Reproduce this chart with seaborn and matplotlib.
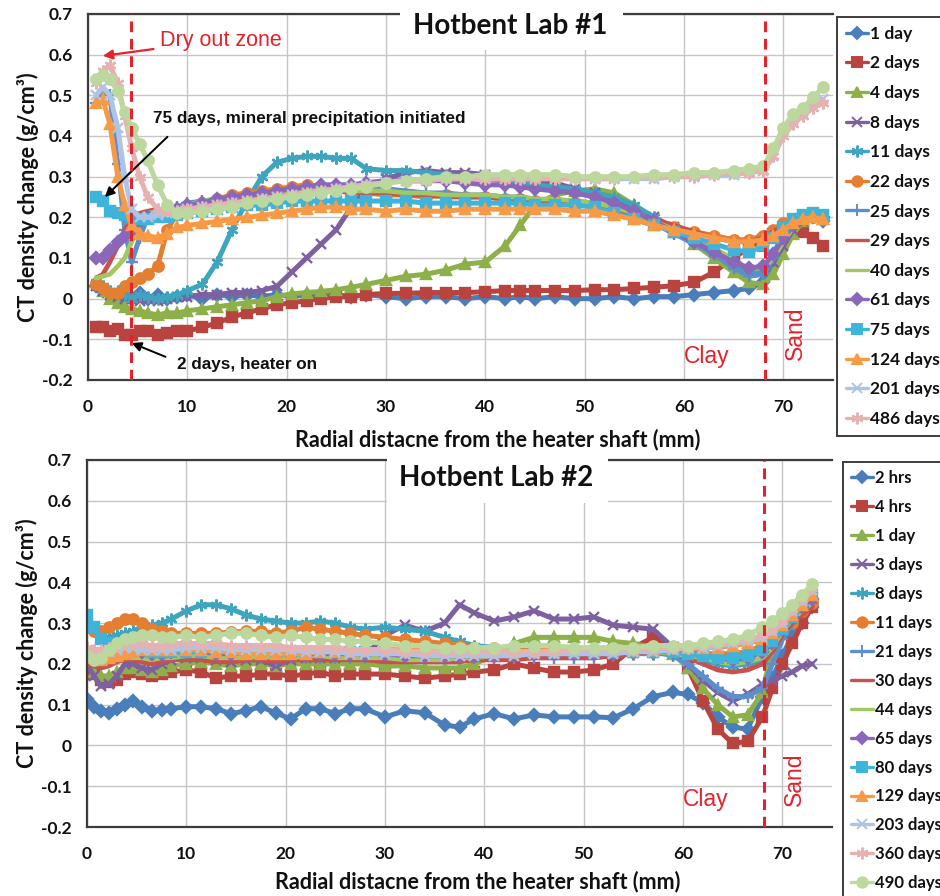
import matplotlib
matplotlib.use("Agg")
import matplotlib.pyplot as plt
from matplotlib.lines import Line2D
from matplotlib.patches import Rectangle
import seaborn as sns

sns.set_style("white")
plt.rcParams["font.family"] = ["Lato", "DejaVu Sans"]

W, H = 940, 896

# ---------------- axis ticks ----------------
x_ticks = [0, 10, 20, 30, 40, 50, 60, 70]
y_ticks = [-0.2, -0.1, 0.0, 0.1, 0.2, 0.3, 0.4, 0.5, 0.6, 0.7]
y_tick_labels = ["-0.2", "-0.1", "0", "0.1", "0.2", "0.3", "0.4", "0.5", "0.6", "0.7"]

# ---------------- Hotbent Lab #1 ----------------
x_lab1 = [0.8, 1.5, 2.2, 3.0, 3.7, 4.4, 5.2, 6.0, 7.0, 8.0,
          9.0, 10.0, 11.5, 13.0, 14.5, 16.0, 17.5, 19.0, 20.5, 22.0,
          23.5, 25.0, 26.5, 28.0, 30.0, 32.0, 34.0, 36.0, 38.0, 40.0,
          42.0, 43.5, 45.0, 47.0, 49.0, 51.0, 53.0, 55.0, 57.0, 59.0,
          61.0, 63.0, 65.0, 66.5, 68.0, 69.0, 70.0, 71.0, 72.0, 73.0,
          74.0]

lab1_labels = ["1 day", "2 days", "4 days", "8 days", "11 days", "22 days", "25 days",
               "29 days", "40 days", "61 days", "75 days", "124 days", "201 days", "486 days"]

l1_1day = [0.030, 0.020, 0.010, 0.000, 0.010, 0.000, 0.015, 0.000, 0.010, 0.000,
           0.005, 0.010, 0.000, 0.010, 0.005, 0.010, 0.005, 0.010, 0.005, 0.010,
           0.005, 0.010, 0.005, 0.010, 0.005, 0.000, 0.005, 0.005, 0.000, 0.005,
           0.000, 0.005, 0.000, 0.005, 0.000, 0.000, 0.005, 0.000, 0.005, 0.005,
           0.010, 0.015, 0.020, 0.025, 0.040, 0.080, 0.140, 0.180, 0.200, 0.200,
           0.190]
l1_2days = [-0.070, -0.070, -0.080, -0.075, -0.090, -0.090, -0.080, -0.080, -0.090, -0.085,
            -0.080, -0.080, -0.070, -0.060, -0.045, -0.035, -0.025, -0.015, -0.010, -0.005,
            0.000, 0.005, 0.005, 0.010, 0.013, 0.013, 0.015, 0.015, 0.015, 0.017,
            0.020, 0.020, 0.020, 0.020, 0.020, 0.022, 0.022, 0.025, 0.028, 0.032,
            0.040, 0.065, 0.100, 0.125, 0.145, 0.160, 0.170, 0.175, 0.165, 0.150,
            0.130]
l1_4days = [0.040, 0.020, 0.000, -0.010, -0.020, -0.025, -0.030, -0.035, -0.040, -0.035,
            -0.035, -0.030, -0.025, -0.020, -0.015, -0.010, -0.005, 0.005, 0.012, 0.015,
            0.018, 0.022, 0.028, 0.035, 0.045, 0.055, 0.060, 0.070, 0.085, 0.090,
            0.130, 0.180, 0.230, 0.255, 0.265, 0.270, 0.260, 0.230, 0.195, 0.165,
            0.135, 0.100, 0.065, 0.040, 0.035, 0.060, 0.110, 0.160, 0.190, 0.200,
            0.195]
l1_8days = [0.030, 0.020, 0.010, 0.005, 0.000, 0.000, -0.005, 0.000, -0.005, 0.000,
            0.005, 0.005, 0.010, 0.010, 0.015, 0.015, 0.020, 0.030, 0.065, 0.100,
            0.135, 0.170, 0.225, 0.270, 0.295, 0.310, 0.315, 0.310, 0.310, 0.305,
            0.300, 0.300, 0.290, 0.285, 0.270, 0.260, 0.240, 0.220, 0.200, 0.175,
            0.150, 0.120, 0.090, 0.070, 0.070, 0.090, 0.130, 0.170, 0.190, 0.200,
            0.200]
l1_11days = [0.040, 0.030, 0.020, 0.020, 0.010, 0.000, 0.010, 0.005, 0.000, 0.005,
             0.010, 0.020, 0.035, 0.090, 0.170, 0.240, 0.300, 0.335, 0.345, 0.350,
             0.350, 0.345, 0.345, 0.320, 0.315, 0.315, 0.310, 0.305, 0.300, 0.295,
             0.290, 0.285, 0.280, 0.275, 0.270, 0.260, 0.250, 0.230, 0.200, 0.170,
             0.140, 0.110, 0.080, 0.065, 0.070, 0.110, 0.160, 0.190, 0.205, 0.210,
             0.205]
l1_22days = [0.035, 0.025, 0.015, 0.015, 0.030, 0.040, 0.050, 0.060, 0.080, 0.170,
             0.210, 0.220, 0.235, 0.245, 0.255, 0.260, 0.265, 0.270, 0.275, 0.280,
             0.275, 0.270, 0.265, 0.260, 0.255, 0.255, 0.250, 0.255, 0.250, 0.250,
             0.245, 0.245, 0.240, 0.240, 0.235, 0.230, 0.220, 0.205, 0.190, 0.175,
             0.165, 0.155, 0.145, 0.145, 0.155, 0.170, 0.185, 0.195, 0.200, 0.200,
             0.195]
l1_25days = [0.480, 0.510, 0.500, 0.330, 0.170, 0.090, 0.150, 0.200, 0.215, 0.220,
             0.225, 0.235, 0.240, 0.245, 0.250, 0.255, 0.260, 0.260, 0.265, 0.265,
             0.270, 0.270, 0.270, 0.270, 0.270, 0.265, 0.260, 0.260, 0.255, 0.255,
             0.250, 0.250, 0.245, 0.240, 0.240, 0.235, 0.220, 0.205, 0.185, 0.160,
             0.135, 0.110, 0.075, 0.055, 0.060, 0.100, 0.150, 0.185, 0.205, 0.210,
             0.205]
l1_29days = [0.050, 0.060, 0.090, 0.130, 0.170, 0.190, 0.210, 0.215, 0.220, 0.220,
             0.225, 0.230, 0.235, 0.240, 0.245, 0.250, 0.255, 0.260, 0.260, 0.265,
             0.265, 0.265, 0.260, 0.260, 0.260, 0.255, 0.255, 0.250, 0.250, 0.250,
             0.245, 0.245, 0.240, 0.240, 0.235, 0.230, 0.220, 0.210, 0.195, 0.180,
             0.165, 0.150, 0.140, 0.140, 0.150, 0.165, 0.180, 0.190, 0.195, 0.195,
             0.190]
l1_40days = [0.050, 0.055, 0.060, 0.080, 0.100, 0.140, 0.190, 0.210, 0.215, 0.220,
             0.225, 0.230, 0.240, 0.245, 0.250, 0.255, 0.260, 0.265, 0.265, 0.270,
             0.270, 0.270, 0.265, 0.265, 0.265, 0.260, 0.260, 0.255, 0.255, 0.255,
             0.250, 0.250, 0.245, 0.245, 0.240, 0.235, 0.225, 0.210, 0.190, 0.170,
             0.150, 0.125, 0.095, 0.075, 0.075, 0.100, 0.140, 0.175, 0.195, 0.200,
             0.195]
l1_61days = [0.100, 0.100, 0.120, 0.140, 0.155, 0.170, 0.190, 0.200, 0.210, 0.215,
             0.220, 0.230, 0.235, 0.245, 0.250, 0.255, 0.260, 0.265, 0.270, 0.275,
             0.280, 0.280, 0.280, 0.285, 0.290, 0.290, 0.290, 0.290, 0.285, 0.280,
             0.280, 0.275, 0.270, 0.265, 0.260, 0.250, 0.235, 0.215, 0.190, 0.165,
             0.140, 0.115, 0.090, 0.075, 0.080, 0.110, 0.150, 0.180, 0.200, 0.205,
             0.200]
l1_75days = [0.250, 0.240, 0.215, 0.210, 0.205, 0.200, 0.195, 0.195, 0.200, 0.200,
             0.205, 0.210, 0.215, 0.220, 0.225, 0.230, 0.230, 0.235, 0.240, 0.240,
             0.240, 0.240, 0.240, 0.240, 0.240, 0.240, 0.235, 0.235, 0.235, 0.235,
             0.235, 0.235, 0.230, 0.230, 0.230, 0.225, 0.210, 0.195, 0.180, 0.165,
             0.150, 0.135, 0.120, 0.115, 0.130, 0.150, 0.175, 0.195, 0.205, 0.210,
             0.205]
l1_124days = [0.480, 0.490, 0.430, 0.300, 0.230, 0.180, 0.160, 0.155, 0.150, 0.160,
              0.175, 0.180, 0.185, 0.190, 0.195, 0.200, 0.205, 0.210, 0.215, 0.220,
              0.225, 0.225, 0.220, 0.220, 0.215, 0.220, 0.215, 0.215, 0.220, 0.220,
              0.220, 0.220, 0.220, 0.220, 0.215, 0.215, 0.205, 0.195, 0.180, 0.170,
              0.160, 0.150, 0.140, 0.140, 0.145, 0.155, 0.170, 0.185, 0.195, 0.200,
              0.195]
l1_201days = [0.500, 0.520, 0.500, 0.420, 0.300, 0.220, 0.200, 0.200, 0.205, 0.210,
              0.215, 0.220, 0.225, 0.230, 0.235, 0.240, 0.245, 0.250, 0.255, 0.260,
              0.265, 0.270, 0.275, 0.280, 0.285, 0.290, 0.290, 0.295, 0.295, 0.295,
              0.295, 0.295, 0.295, 0.295, 0.295, 0.295, 0.295, 0.295, 0.295, 0.300,
              0.300, 0.305, 0.305, 0.310, 0.315, 0.350, 0.410, 0.440, 0.460, 0.480,
              0.490]
l1_486days = [0.530, 0.560, 0.575, 0.530, 0.450, 0.370, 0.300, 0.250, 0.220, 0.215,
              0.215, 0.220, 0.225, 0.230, 0.235, 0.240, 0.245, 0.250, 0.255, 0.260,
              0.265, 0.270, 0.275, 0.280, 0.285, 0.290, 0.290, 0.295, 0.295, 0.295,
              0.295, 0.295, 0.295, 0.295, 0.295, 0.295, 0.295, 0.300, 0.300, 0.300,
              0.300, 0.305, 0.310, 0.310, 0.315, 0.350, 0.400, 0.430, 0.450, 0.470,
              0.480]
# scan plotted without a legend entry
l1_extra = [0.540, 0.550, 0.540, 0.510, 0.460, 0.420, 0.380, 0.340, 0.280, 0.230,
            0.210, 0.210, 0.215, 0.220, 0.225, 0.235, 0.240, 0.245, 0.250, 0.255,
            0.260, 0.265, 0.270, 0.275, 0.285, 0.290, 0.295, 0.300, 0.300, 0.305,
            0.305, 0.305, 0.305, 0.305, 0.300, 0.300, 0.300, 0.300, 0.305, 0.305,
            0.310, 0.310, 0.315, 0.320, 0.325, 0.370, 0.420, 0.455, 0.470, 0.495,
            0.520]

# ---------------- Hotbent Lab #2 ----------------
x_lab2 = [0.0, 0.7, 1.4, 2.2, 3.0, 3.8, 4.6, 5.5, 6.5, 7.5,
          8.5, 10.0, 11.5, 13.0, 14.5, 16.0, 17.5, 19.0, 20.5, 22.0,
          23.5, 25.0, 26.5, 28.0, 30.0, 32.0, 34.0, 36.0, 37.5, 39.0,
          41.0, 43.0, 45.0, 47.0, 49.0, 51.0, 53.0, 55.0, 57.0, 59.0,
          60.5, 62.0, 63.5, 65.0, 66.5, 68.0, 69.0, 70.0, 71.0, 72.0,
          73.0]

lab2_labels = ["2 hrs", "4 hrs", "1 day", "3 days", "8 days", "11 days", "21 days", "30 days",
               "44 days", "65 days", "80 days", "129 days", "203 days", "360 days", "490 days"]

l2_2hrs = [0.115, 0.095, 0.085, 0.080, 0.090, 0.100, 0.108, 0.095, 0.085, 0.088,
           0.090, 0.095, 0.095, 0.090, 0.078, 0.085, 0.095, 0.080, 0.065, 0.090,
           0.090, 0.078, 0.090, 0.090, 0.070, 0.085, 0.080, 0.050, 0.045, 0.065,
           0.078, 0.065, 0.075, 0.070, 0.070, 0.070, 0.068, 0.090, 0.120, 0.130,
           0.125, 0.105, 0.070, 0.045, 0.040, 0.120, 0.165, 0.220, 0.270, 0.300,
           0.340]
l2_4hrs = [0.185, 0.175, 0.160, 0.155, 0.160, 0.175, 0.180, 0.175, 0.170, 0.175,
           0.180, 0.185, 0.180, 0.165, 0.170, 0.170, 0.175, 0.175, 0.170, 0.175,
           0.180, 0.170, 0.175, 0.175, 0.175, 0.170, 0.165, 0.170, 0.175, 0.180,
           0.185, 0.200, 0.190, 0.180, 0.180, 0.185, 0.200, 0.240, 0.265, 0.240,
           0.190, 0.110, 0.040, 0.005, 0.010, 0.070, 0.140, 0.200, 0.250, 0.300,
           0.340]
l2_1day = [0.200, 0.180, 0.170, 0.170, 0.180, 0.190, 0.190, 0.185, 0.180, 0.185,
           0.195, 0.200, 0.205, 0.200, 0.195, 0.200, 0.200, 0.195, 0.200, 0.200,
           0.200, 0.200, 0.200, 0.200, 0.195, 0.195, 0.190, 0.190, 0.190, 0.200,
           0.220, 0.250, 0.265, 0.265, 0.265, 0.265, 0.255, 0.250, 0.240, 0.225,
           0.190, 0.140, 0.100, 0.070, 0.075, 0.130, 0.240, 0.290, 0.320, 0.340,
           0.370]
l2_3days = [0.200, 0.170, 0.145, 0.150, 0.170, 0.200, 0.200, 0.190, 0.185, 0.200,
            0.210, 0.215, 0.215, 0.210, 0.205, 0.210, 0.210, 0.195, 0.210, 0.215,
            0.215, 0.215, 0.220, 0.220, 0.270, 0.295, 0.280, 0.300, 0.345, 0.325,
            0.305, 0.315, 0.330, 0.310, 0.310, 0.315, 0.295, 0.290, 0.285, 0.240,
            0.200, 0.160, 0.130, 0.110, 0.125, 0.150, 0.160, 0.170, 0.180, 0.195,
            0.200]
l2_8days = [0.300, 0.280, 0.265, 0.265, 0.270, 0.275, 0.280, 0.290, 0.295, 0.300,
            0.310, 0.330, 0.345, 0.345, 0.335, 0.320, 0.310, 0.305, 0.300, 0.300,
            0.305, 0.300, 0.290, 0.285, 0.290, 0.285, 0.280, 0.265, 0.255, 0.245,
            0.240, 0.235, 0.235, 0.230, 0.230, 0.230, 0.225, 0.225, 0.225, 0.225,
            0.220, 0.210, 0.200, 0.195, 0.200, 0.210, 0.240, 0.280, 0.310, 0.340,
            0.370]
l2_11days = [0.290, 0.280, 0.280, 0.290, 0.300, 0.310, 0.310, 0.300, 0.285, 0.280,
             0.275, 0.275, 0.275, 0.275, 0.278, 0.280, 0.280, 0.275, 0.280, 0.290,
             0.285, 0.280, 0.275, 0.270, 0.265, 0.260, 0.255, 0.250, 0.245, 0.240,
             0.240, 0.235, 0.235, 0.230, 0.230, 0.230, 0.230, 0.230, 0.230, 0.230,
             0.230, 0.225, 0.225, 0.225, 0.230, 0.245, 0.260, 0.280, 0.300, 0.330,
             0.350]
l2_21days = [0.240, 0.230, 0.215, 0.210, 0.220, 0.225, 0.225, 0.220, 0.215, 0.215,
             0.220, 0.220, 0.220, 0.215, 0.215, 0.215, 0.215, 0.210, 0.215, 0.215,
             0.215, 0.215, 0.215, 0.215, 0.215, 0.215, 0.215, 0.215, 0.215, 0.215,
             0.215, 0.215, 0.215, 0.215, 0.215, 0.215, 0.220, 0.225, 0.230, 0.220,
             0.200, 0.170, 0.140, 0.120, 0.120, 0.140, 0.200, 0.260, 0.300, 0.330,
             0.350]
l2_30days = [0.200, 0.195, 0.190, 0.195, 0.205, 0.210, 0.210, 0.205, 0.200, 0.205,
             0.210, 0.210, 0.210, 0.205, 0.205, 0.210, 0.210, 0.205, 0.210, 0.210,
             0.210, 0.210, 0.210, 0.210, 0.205, 0.205, 0.205, 0.205, 0.205, 0.210,
             0.210, 0.210, 0.215, 0.215, 0.215, 0.215, 0.220, 0.225, 0.230, 0.225,
             0.215, 0.200, 0.185, 0.180, 0.185, 0.200, 0.230, 0.270, 0.300, 0.320,
             0.340]
l2_44days = [0.210, 0.205, 0.200, 0.205, 0.210, 0.215, 0.215, 0.215, 0.210, 0.215,
             0.215, 0.220, 0.220, 0.215, 0.215, 0.215, 0.220, 0.215, 0.215, 0.220,
             0.220, 0.215, 0.215, 0.215, 0.215, 0.210, 0.210, 0.210, 0.215, 0.215,
             0.220, 0.225, 0.230, 0.230, 0.230, 0.230, 0.230, 0.230, 0.230, 0.225,
             0.220, 0.215, 0.205, 0.200, 0.205, 0.215, 0.240, 0.280, 0.310, 0.330,
             0.350]
l2_65days = [0.220, 0.215, 0.220, 0.235, 0.240, 0.240, 0.235, 0.230, 0.225, 0.225,
             0.230, 0.230, 0.230, 0.225, 0.225, 0.230, 0.230, 0.225, 0.225, 0.225,
             0.225, 0.225, 0.225, 0.225, 0.225, 0.220, 0.220, 0.220, 0.220, 0.220,
             0.220, 0.225, 0.225, 0.225, 0.225, 0.225, 0.225, 0.230, 0.230, 0.230,
             0.225, 0.220, 0.215, 0.210, 0.215, 0.230, 0.250, 0.285, 0.315, 0.340,
             0.360]
l2_80days = [0.320, 0.290, 0.260, 0.250, 0.250, 0.245, 0.240, 0.235, 0.230, 0.230,
             0.230, 0.230, 0.230, 0.235, 0.235, 0.235, 0.235, 0.230, 0.230, 0.230,
             0.230, 0.230, 0.230, 0.230, 0.230, 0.230, 0.230, 0.230, 0.230, 0.230,
             0.230, 0.230, 0.230, 0.230, 0.230, 0.230, 0.230, 0.230, 0.230, 0.230,
             0.225, 0.220, 0.215, 0.215, 0.220, 0.235, 0.255, 0.285, 0.315, 0.345,
             0.370]
l2_129days = [0.220, 0.215, 0.210, 0.215, 0.220, 0.225, 0.230, 0.235, 0.235, 0.235,
              0.235, 0.235, 0.235, 0.230, 0.230, 0.225, 0.225, 0.225, 0.225, 0.225,
              0.230, 0.230, 0.230, 0.235, 0.235, 0.235, 0.235, 0.230, 0.230, 0.230,
              0.230, 0.230, 0.230, 0.235, 0.235, 0.235, 0.235, 0.235, 0.235, 0.240,
              0.240, 0.240, 0.240, 0.245, 0.250, 0.260, 0.275, 0.295, 0.320, 0.345,
              0.370]
l2_203days = [0.230, 0.225, 0.225, 0.230, 0.235, 0.240, 0.240, 0.235, 0.235, 0.235,
              0.235, 0.240, 0.240, 0.240, 0.235, 0.235, 0.235, 0.235, 0.235, 0.230,
              0.230, 0.230, 0.225, 0.225, 0.225, 0.225, 0.220, 0.220, 0.220, 0.220,
              0.220, 0.220, 0.225, 0.225, 0.225, 0.225, 0.225, 0.230, 0.230, 0.235,
              0.240, 0.240, 0.245, 0.250, 0.255, 0.265, 0.280, 0.300, 0.330, 0.355,
              0.380]
l2_360days = [0.240, 0.235, 0.235, 0.240, 0.245, 0.250, 0.250, 0.250, 0.245, 0.245,
              0.250, 0.250, 0.250, 0.250, 0.245, 0.245, 0.245, 0.245, 0.240, 0.240,
              0.240, 0.240, 0.235, 0.235, 0.235, 0.230, 0.230, 0.230, 0.230, 0.230,
              0.230, 0.230, 0.230, 0.230, 0.235, 0.235, 0.235, 0.235, 0.240, 0.240,
              0.240, 0.245, 0.250, 0.255, 0.260, 0.270, 0.285, 0.305, 0.335, 0.360,
              0.385]
l2_490days = [0.220, 0.210, 0.215, 0.235, 0.250, 0.260, 0.265, 0.270, 0.270, 0.265,
              0.265, 0.270, 0.265, 0.270, 0.275, 0.275, 0.270, 0.265, 0.270, 0.265,
              0.260, 0.260, 0.255, 0.255, 0.250, 0.245, 0.245, 0.240, 0.240, 0.240,
              0.240, 0.245, 0.245, 0.245, 0.240, 0.240, 0.240, 0.240, 0.245, 0.245,
              0.245, 0.250, 0.255, 0.260, 0.270, 0.290, 0.305, 0.325, 0.345, 0.370,
              0.395]

# ---------------- series styles (Excel-like palette) ----------------
ASTER = (6, 2, 0)
BLUE, RED, GREEN, PURPLE, TEAL = "#4A7EBB", "#B8433F", "#8DB04A", "#7D60A0", "#3FA4BE"
ORANGE_DK, BLUE2, RED2, GREEN2 = "#E47E30", "#5E8FCB", "#C9504C", "#A3C862"
PURPLE2, CYAN, ORANGE, LBLUE, PINK, LGREEN = "#8A67B8", "#3FB4DA", "#F89A45", "#AFC4E4", "#E6B2B1", "#BCD89E"

styles = [(BLUE, "D", 6.5), (RED, "s", 6.5), (GREEN, "^", 7.5), (PURPLE, "x", 7.5),
          (TEAL, ASTER, 8.5), (ORANGE_DK, "o", 7.5), (BLUE2, "+", 8.5), (RED2, "", 0),
          (GREEN2, "", 0), (PURPLE2, "D", 6.5), (CYAN, "s", 6.5), (ORANGE, "^", 7.5),
          (LBLUE, "x", 7.5), (PINK, ASTER, 8.5), (LGREEN, "o", 7.5)]

lab1_series = [l1_1day, l1_2days, l1_4days, l1_8days, l1_11days, l1_22days, l1_25days,
               l1_29days, l1_40days, l1_61days, l1_75days, l1_124days, l1_201days,
               l1_486days, l1_extra]
lab2_series = [l2_2hrs, l2_4hrs, l2_1day, l2_3days, l2_8days, l2_11days, l2_21days,
               l2_30days, l2_44days, l2_65days, l2_80days, l2_129days, l2_203days,
               l2_360days, l2_490days]

fig = plt.figure(figsize=(W / 100, H / 100), dpi=100)
fig.patch.set_facecolor("white")
ax1 = fig.add_axes([88 / W, 1 - 380 / H, 745 / W, 366 / H])
ax2 = fig.add_axes([87 / W, 1 - 827 / H, 745 / W, 367 / H])
for ax in (ax1, ax2):
    ax.patch.set_alpha(0)

BOLD_TICK = dict(family="Lato", weight="bold", size=12.5)
LABEL_FONT = dict(family="Lato", weight="bold", size=15.5)
RED_TXT = "#E3222B"


def draw_panel(ax, xs, series_list):
    for vals, (color, marker, ms) in zip(series_list, styles):
        lw = 3.6 if marker else 3.4
        sns.lineplot(x=xs, y=vals, ax=ax, color=color, linewidth=lw,
                     marker=marker if marker else None, markersize=ms,
                     markeredgecolor=color, markerfacecolor=color,
                     markeredgewidth=1.7, sort=False, estimator=None, legend=False)


def style_axes(ax, xlabel_x, xlabel_y):
    ax.set_xlim(0, 75)
    ax.set_ylim(-0.2, 0.7)
    ax.set_xticks(x_ticks)
    ax.set_yticks(y_ticks)
    ax.set_yticklabels(y_tick_labels)
    ax.grid(True, color="#c6c6c6", linewidth=1.0)
    ax.set_axisbelow(True)
    for side in ("left", "bottom", "top"):
        ax.spines[side].set_color("#3c3c3c")
        ax.spines[side].set_linewidth(1.6)
    ax.spines["right"].set_visible(False)
    ax.tick_params(axis="both", length=0)
    ax.tick_params(axis="x", pad=14)
    ax.tick_params(axis="y", pad=11)
    for lab in ax.get_xticklabels() + ax.get_yticklabels():
        lab.set_fontproperties(BOLD_TICK)
        lab.set_color("#111111")
    ax.set_xlabel("Radial distacne from the heater shaft (mm)", fontdict=LABEL_FONT, color="#111111")
    ax.set_ylabel("CT density change (g/cm³)", fontdict=LABEL_FONT, color="#111111")
    ax.xaxis.label.set_va("center")
    ax.xaxis.set_label_coords(xlabel_x, xlabel_y)
    ax.yaxis.set_label_coords(-0.066, 0.5)


def boundary_marks(ax, x_dry=None):
    ax.axvline(68.2, color=RED_TXT, lw=2.2, ls=(0, (3.5, 2.2)), zorder=5)
    if x_dry is not None:
        ax.axvline(x_dry, color=RED_TXT, lw=2.2, ls=(0, (3.5, 2.2)), zorder=5)


draw_panel(ax1, x_lab1, lab1_series)
draw_panel(ax2, x_lab2, lab2_series)
style_axes(ax1, (498 - 88) / 745, (380 - 440) / 366)
style_axes(ax2, (478 - 87) / 745, (827 - 882) / 367)
boundary_marks(ax1, 4.3)
boundary_marks(ax2)

# annotations, panel 1
ax1.annotate("Dry out zone", xy=(1.5, 0.597), xytext=(7.2, 0.636), color=RED_TXT,
             fontsize=15.5, family="Liberation Sans", va="center", ha="left",
             arrowprops=dict(arrowstyle="-|>", color=RED_TXT, lw=1.6, mutation_scale=14,
                             shrinkA=2, shrinkB=0))
ax1.text(6.5, 0.444, "75 days, mineral precipitation initiated", color="#111111",
         fontsize=12.3, fontweight="bold", family="Liberation Sans", va="center", ha="left")
ax1.annotate("", xy=(1.7, 0.25), xytext=(8.0, 0.398),
             arrowprops=dict(arrowstyle="-|>", color="black", lw=1.4, mutation_scale=14,
                             shrinkA=0, shrinkB=0))
ax1.text(9.0, -0.163, "2 days, heater on", color="#111111", fontsize=12.3,
         fontweight="bold", family="Liberation Sans", va="center", ha="left")
ax1.annotate("", xy=(4.4, -0.109), xytext=(7.8, -0.143),
             arrowprops=dict(arrowstyle="-|>", color="black", lw=1.4, mutation_scale=14,
                             shrinkA=0, shrinkB=0))
for ax, cy, sy in ((ax1, -0.143, -0.084), (ax2, -0.133, -0.082)):
    ax.text(62.3, cy, "Clay", color=RED_TXT, fontsize=16.5, family="Liberation Sans",
            ha="center", va="center")
    ax.text(71.2, sy, "Sand", color=RED_TXT, fontsize=16.5, family="Liberation Sans",
            ha="center", va="center", rotation=90)

# title plates sitting on the top frame line
fig.patches.append(Rectangle((400 / W, 1 - 50 / H), 223 / W, 50 / H, transform=fig.transFigure,
                             facecolor="white", edgecolor="none", zorder=1))
fig.patches.append(Rectangle((387 / W, 1 - 503 / H), 221 / W, 55 / H, transform=fig.transFigure,
                             facecolor="white", edgecolor="none", zorder=1))
fig.text(510 / W, 1 - 26 / H, "Hotbent Lab #1", ha="center", va="center", family="Lato",
         weight="bold", size=20, color="#111111", zorder=3)
fig.text(496 / W, 1 - 478 / H, "Hotbent Lab #2", ha="center", va="center", family="Lato",
         weight="bold", size=20, color="#111111", zorder=3)


def add_legend(labels, left_px, top_px, size, spacing):
    handles = []
    for color, marker, ms in styles[:len(labels)]:
        handles.append(Line2D([], [], color=color, lw=2.4, marker=marker if marker else None,
                              markersize=ms, markeredgecolor=color, markerfacecolor=color,
                              markeredgewidth=1.4))
    leg = fig.legend(handles, labels, loc="upper left",
                     bbox_to_anchor=(left_px / W, 1 - top_px / H), bbox_transform=fig.transFigure,
                     frameon=True, fancybox=False, framealpha=1, edgecolor="#3c3c3c",
                     prop=dict(family="Lato", weight="bold", size=size), handlelength=1.3,
                     handletextpad=0.1, labelspacing=spacing, borderpad=0.5,
                     borderaxespad=0, numpoints=1)
    leg.get_frame().set_linewidth(1.4)
    for t in leg.get_texts():
        t.set_color("#111111")
    return leg


add_legend(lab1_labels, 837, 17, 12.5, 0.786)
add_legend(lab2_labels, 843, 462, 12, 0.775)

fig.savefig("out.png", dpi=100, facecolor="white")
